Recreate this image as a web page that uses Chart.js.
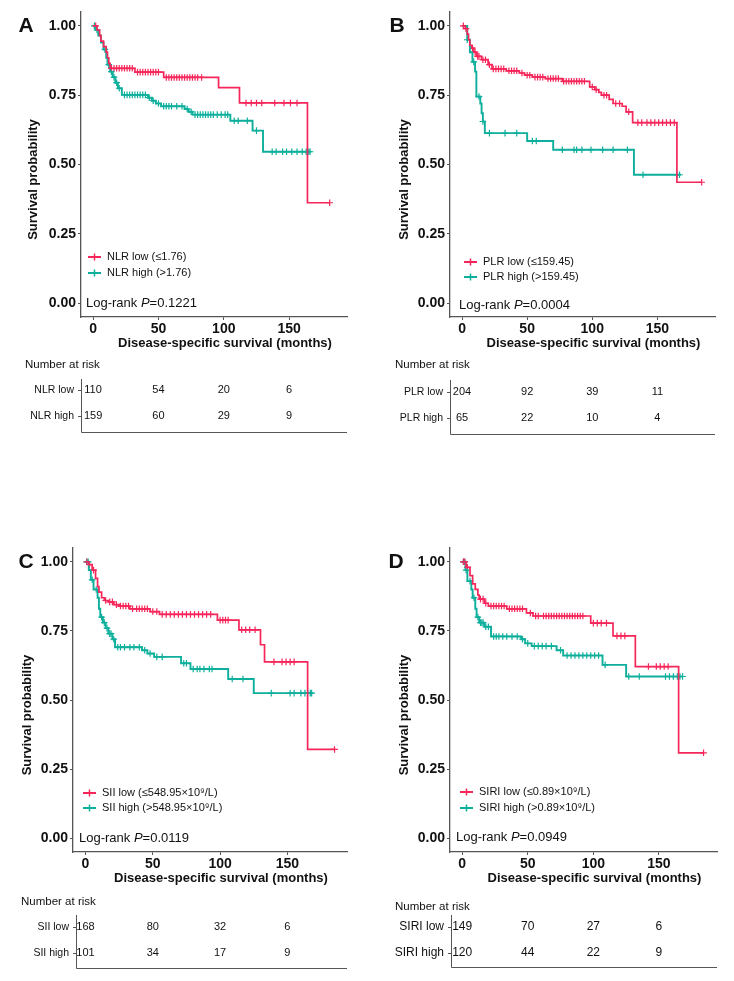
<!DOCTYPE html>
<html>
<head>
<meta charset="utf-8">
<script src="https://cdn.jsdelivr.net/npm/chart.js@4.4.1/dist/chart.umd.min.js"></script>
<style>
 body { margin: 0; background: #fff; }
 canvas { position: absolute; }
</style>
</head>
<body>
<canvas id="kmA" width="367" height="440" style="left:0;top:0"></canvas>
<canvas id="kmB" width="367" height="440" style="left:367px;top:0"></canvas>
<canvas id="kmC" width="367" height="541" style="left:0;top:440px"></canvas>
<canvas id="kmD" width="367" height="541" style="left:367px;top:440px"></canvas>
<script>
// axis ticks
const xTicks = [0, 50, 100, 150];
const yTicks = [0, 0.25, 0.5, 0.75, 1];
const riskTimes = [0, 50, 100, 150];

// A: NLR
const nlrLowT = [0, 3, 5, 6, 8, 10, 11, 12, 13, 32, 54, 96, 112, 164, 181];
const nlrLowS = [1, 0.985, 0.965, 0.945, 0.925, 0.905, 0.885, 0.865, 0.847, 0.833, 0.814, 0.777, 0.722, 0.362, 0.362];
const nlrLowCens = [2, 14, 16, 18, 20, 22, 24, 26, 28, 30, 34, 36, 38, 40, 42, 44, 46, 48, 50, 56, 58, 60, 62, 64, 66, 68, 70, 72, 74, 76, 78, 80, 83, 117, 121, 125, 129, 139, 146, 151, 156, 181];
const nlrHighT = [0, 2, 4, 6, 8, 10, 11, 13, 15, 17, 19, 22, 42, 45, 48, 52, 70, 73, 76, 105, 122, 130, 166];
const nlrHighS = [1, 0.985, 0.965, 0.94, 0.915, 0.885, 0.86, 0.835, 0.815, 0.795, 0.775, 0.751, 0.741, 0.73, 0.72, 0.71, 0.70, 0.69, 0.68, 0.658, 0.622, 0.546, 0.546];
const nlrHighCens = [1, 3, 9, 12, 14, 16, 18, 20, 24, 26, 28, 30, 32, 34, 36, 38, 40, 43, 46, 50, 54, 56, 58, 60, 64, 68, 72, 75, 78, 80, 82, 84, 86, 88, 90, 92, 95, 98, 101, 103, 108, 111, 118, 125, 137, 140, 145, 148, 152, 156, 160, 163, 165, 166];
const nlrLowRisk = [110, 54, 20, 6];
const nlrHighRisk = [159, 60, 29, 9];

// B: PLR
const plrLowT = [0, 2.5, 4, 5, 6, 7.5, 9, 11, 15, 20, 23, 34, 44, 48, 54, 64, 77, 98, 102, 105, 107, 113, 116, 123, 126, 131, 165, 184];
const plrLowS = [1, 0.99, 0.97, 0.95, 0.93, 0.92, 0.905, 0.89, 0.878, 0.86, 0.845, 0.838, 0.83, 0.822, 0.815, 0.81, 0.80, 0.78, 0.77, 0.76, 0.75, 0.735, 0.72, 0.71, 0.69, 0.651, 0.436, 0.436];
const plrLowCens = [1, 3, 8, 10, 12, 13, 16, 18, 21, 24, 26, 28, 30, 32, 36, 38, 40, 42, 46, 50, 52, 56, 58, 60, 62, 66, 68, 70, 72, 74, 78, 80, 82, 84, 86, 88, 90, 92, 94, 100, 103, 109, 111, 118, 121, 128, 135, 138, 142, 145, 148, 151, 154, 157, 160, 163, 184];
const plrHighT = [0, 4, 6, 8, 10, 11, 14, 15, 16, 17.5, 50, 70, 132, 168];
const plrHighS = [1, 0.95, 0.905, 0.87, 0.835, 0.745, 0.72, 0.685, 0.655, 0.613, 0.585, 0.553, 0.463, 0.463];
const plrHighCens = [4, 9, 13, 16, 21, 33, 42, 54, 57, 77, 86, 88, 92, 99, 108, 116, 127, 139, 165, 167];
const plrLowRisk = [204, 92, 39, 11];
const plrHighRisk = [65, 22, 10, 4];

// C: SII
const siiLowT = [0, 2.5, 5, 7.5, 9, 10, 12, 14, 17, 21, 25, 33, 48, 55, 98, 114, 130, 133, 165, 185];
const siiLowS = [1, 0.99, 0.97, 0.94, 0.91, 0.89, 0.87, 0.86, 0.855, 0.845, 0.84, 0.83, 0.82, 0.81, 0.789, 0.754, 0.70, 0.638, 0.321, 0.321];
const siiLowCens = [1, 3, 6, 15, 18, 20, 23, 26, 28, 30, 32, 35, 38, 40, 42, 44, 46, 50, 53, 57, 60, 63, 66, 69, 72, 75, 78, 81, 84, 87, 90, 93, 100, 102, 104, 106, 116, 119, 122, 126, 140, 146, 149, 152, 155, 185];
const siiHighT = [0, 2.5, 4, 6, 9, 10, 11, 13, 15, 17, 20, 22, 42, 46, 51, 71, 78, 106, 125, 168];
const siiHighS = [1, 0.97, 0.935, 0.90, 0.87, 0.83, 0.80, 0.78, 0.76, 0.74, 0.72, 0.691, 0.68, 0.668, 0.656, 0.633, 0.612, 0.576, 0.525, 0.525];
const siiHighCens = [1, 2, 5, 8, 12, 14, 16, 18, 19, 21, 24, 26, 29, 33, 36, 40, 44, 48, 53, 57, 73, 75, 80, 83, 85, 88, 92, 94, 109, 117, 138, 152, 155, 160, 163, 165, 167, 168];
const siiLowRisk = [168, 80, 32, 6];
const siiHighRisk = [101, 34, 17, 9];

// D: SIRI
const siriLowT = [0, 3, 6, 8, 10, 12, 13, 17, 20, 34, 49, 54, 98, 115, 132, 165, 184];
const siriLowS = [1, 0.98, 0.95, 0.92, 0.90, 0.88, 0.865, 0.85, 0.84, 0.83, 0.815, 0.804, 0.778, 0.732, 0.621, 0.309, 0.309];
const siriLowCens = [1, 2, 4, 14, 16, 18, 22, 24, 26, 28, 30, 32, 36, 38, 40, 42, 44, 46, 52, 56, 58, 62, 64, 66, 68, 70, 72, 74, 76, 78, 80, 82, 84, 86, 88, 90, 92, 100, 103, 106, 110, 118, 121, 124, 142, 148, 151, 154, 157, 184];
const siriHighT = [0, 2.5, 4, 7, 8, 10, 11, 13, 17, 22, 45, 48, 53, 72, 77, 107, 125, 168];
const siriHighS = [1, 0.97, 0.93, 0.90, 0.87, 0.83, 0.80, 0.78, 0.765, 0.73, 0.72, 0.705, 0.695, 0.68, 0.661, 0.627, 0.585, 0.585];
const siriHighCens = [1, 2, 3, 6, 9, 12, 14, 15, 16, 18, 20, 24, 26, 28, 31, 34, 38, 42, 46, 50, 55, 58, 61, 64, 68, 75, 80, 83, 86, 89, 92, 95, 98, 101, 104, 109, 127, 135, 155, 158, 161, 164, 166, 168];
const siriLowRisk = [149, 70, 27, 6];
const siriHighRisk = [120, 44, 22, 9];

const RED = '#F5265A';
const TEAL = '#0DAF9C';
const AXIS = '#555';
const FONT = "'Liberation Sans', Arial, sans-serif";
const X_AXIS_H = 22;

const panels = [
 { id: 'kmA', letter: 'A', lowT: nlrLowT, lowS: nlrLowS, lowC: nlrLowCens, highT: nlrHighT, highS: nlrHighS, highC: nlrHighCens,
   rows: ['NLR low', 'NLR high'], legend: ['NLR low (≤1.76)', 'NLR high (>1.76)'], pval: '0.1221', risk: [nlrLowRisk, nlrHighRisk],
   w: 367, h: 440, area: { l: 81, r: 347, t: 12, b: 317 }, letterXY: [26, 26], yTitleX: 33,
   legendX: 88, legendY: [257, 273], pX: 86, pY: 303, xTitleY: 343,
   tblTitle: [25, 365], tblRows: [390, 416], tblAxisX: 81, tblTop: 379, tblBottom: 432, labelFont: 10.5, numFont: 11 },
 { id: 'kmB', letter: 'B', lowT: plrLowT, lowS: plrLowS, lowC: plrLowCens, highT: plrHighT, highS: plrHighS, highC: plrHighCens,
   rows: ['PLR low', 'PLR high'], legend: ['PLR low (≤159.45)', 'PLR high (>159.45)'], pval: '0.0004', risk: [plrLowRisk, plrHighRisk],
   w: 367, h: 440, area: { l: 83, r: 348, t: 12, b: 317 }, letterXY: [30, 26], yTitleX: 37,
   legendX: 97, legendY: [262, 277], pX: 92, pY: 305, xTitleY: 343,
   tblTitle: [28, 365], tblRows: [392, 418], tblAxisX: 83, tblTop: 380, tblBottom: 434, labelFont: 10.5, numFont: 11 },
 { id: 'kmC', letter: 'C', lowT: siiLowT, lowS: siiLowS, lowC: siiLowCens, highT: siiHighT, highS: siiHighS, highC: siiHighCens,
   rows: ['SII low', 'SII high'], legend: ['SII low (≤548.95×10⁹/L)', 'SII high (>548.95×10⁹/L)'], pval: '0.0119', risk: [siiLowRisk, siiHighRisk],
   w: 367, h: 541, area: { l: 73, r: 347, t: 108, b: 412 }, letterXY: [26, 122], yTitleX: 27,
   legendX: 83, legendY: [353, 368], pX: 79, pY: 398, xTitleY: 438,
   tblTitle: [21, 462], tblRows: [487, 513], tblAxisX: 76, tblTop: 475, tblBottom: 528, labelFont: 10.5, numFont: 11 },
 { id: 'kmD', letter: 'D', lowT: siriLowT, lowS: siriLowS, lowC: siriLowCens, highT: siriHighT, highS: siriHighS, highC: siriHighCens,
   rows: ['SIRI low', 'SIRI high'], legend: ['SIRI low (≤0.89×10⁹/L)', 'SIRI high (>0.89×10⁹/L)'], pval: '0.0949', risk: [siriLowRisk, siriHighRisk],
   w: 367, h: 541, area: { l: 83, r: 350, t: 108, b: 412 }, letterXY: [29, 122], yTitleX: 37,
   legendX: 93, legendY: [352, 368], pX: 89, pY: 397, xTitleY: 438,
   tblTitle: [28, 467], tblRows: [487, 513], tblAxisX: 84, tblTop: 475, tblBottom: 527, labelFont: 12, numFont: 12 }
];

function stepData(T, S) {
 return T.map((t, i) => ({ x: t, y: S[i] }));
}

// survival value of the step curve at time t (for placing censor marks)
function survAt(T, S, t) {
 let s = S[0];
 for (let i = 0; i < T.length; i++) {
  if (T[i] <= t) s = S[i];
 }
 return s;
}

function censorData(T, S, C) {
 return C.map(t => ({ x: t, y: survAt(T, S, t) }));
}

function drawCross(ctx, x, y, r, color) {
 ctx.strokeStyle = color;
 ctx.lineWidth = 1.5;
 ctx.beginPath();
 ctx.moveTo(x - r, y); ctx.lineTo(x + r, y);
 ctx.moveTo(x, y - r); ctx.lineTo(x, y + r);
 ctx.stroke();
}

function decorPlugin(p) {
 return {
  id: 'decor',
  afterDraw(chart) {
   const ctx = chart.ctx;
   const ca = chart.chartArea;
   const xs = chart.scales.x;
   ctx.save();
   ctx.fillStyle = '#111';
   ctx.textBaseline = 'middle';

   // panel letter
   ctx.font = `bold 21px ${FONT}`;
   ctx.textAlign = 'center';
   ctx.fillText(p.letter, p.letterXY[0], p.letterXY[1]);

   // y title
   ctx.save();
   ctx.translate(p.yTitleX, (ca.top + ca.bottom) / 2 + 15);
   ctx.rotate(-Math.PI / 2);
   ctx.font = `bold 13px ${FONT}`;
   ctx.fillText('Survival probability', 0, 0);
   ctx.restore();

   // x title
   ctx.font = `bold 13px ${FONT}`;
   ctx.fillText('Disease-specific survival (months)', (ca.left + ca.right) / 2 + 11, p.xTitleY);

   // legend
   ctx.textAlign = 'left';
   ctx.font = `11px ${FONT}`;
   [RED, TEAL].forEach((col, i) => {
    const y = p.legendY[i];
    ctx.strokeStyle = col;
    ctx.lineWidth = 2;
    ctx.beginPath();
    ctx.moveTo(p.legendX, y); ctx.lineTo(p.legendX + 13, y);
    ctx.stroke();
    drawCross(ctx, p.legendX + 6.5, y, 3.5, col);
    ctx.fillStyle = '#111';
    ctx.fillText(p.legend[i], p.legendX + 19, y);
   });

   // log-rank p
   ctx.font = `13px ${FONT}`;
   let x = p.pX;
   ctx.fillText('Log-rank ', x, p.pY);
   x += ctx.measureText('Log-rank ').width;
   ctx.font = `italic 13px ${FONT}`;
   ctx.fillText('P', x, p.pY);
   x += ctx.measureText('P').width;
   ctx.font = `13px ${FONT}`;
   ctx.fillText('=' + p.pval, x, p.pY);

   // number at risk table
   ctx.font = `11.5px ${FONT}`;
   ctx.fillText('Number at risk', p.tblTitle[0], p.tblTitle[1]);
   ctx.strokeStyle = AXIS;
   ctx.lineWidth = 1;
   ctx.beginPath();
   ctx.moveTo(p.tblAxisX + 0.5, p.tblTop);
   ctx.lineTo(p.tblAxisX + 0.5, p.tblBottom + 0.5);
   ctx.lineTo(ca.right, p.tblBottom + 0.5);
   p.tblRows.forEach(y => {
    ctx.moveTo(p.tblAxisX - 3, y + 0.5);
    ctx.lineTo(p.tblAxisX, y + 0.5);
   });
   ctx.stroke();
   p.rows.forEach((lab, i) => {
    const y = p.tblRows[i];
    ctx.textAlign = 'right';
    ctx.font = `${p.labelFont}px ${FONT}`;
    ctx.fillText(lab, p.tblAxisX - 7, y);
    ctx.textAlign = 'center';
    ctx.font = `${p.numFont}px ${FONT}`;
    p.risk[i].forEach((n, j) => {
     ctx.fillText(String(n), xs.getPixelForValue(riskTimes[j]), y);
    });
   });
   ctx.restore();
  }
 };
}

function makePanel(p) {
 const canvas = document.getElementById(p.id);
 const ctx = canvas.getContext('2d');
 const tickFont = { family: FONT, size: 14, weight: 'bold' };
 return new Chart(ctx, {
  type: 'line',
  data: {
   datasets: [
    { label: p.rows[0], data: stepData(p.lowT, p.lowS), borderColor: RED, backgroundColor: RED,
      stepped: 'before', pointRadius: 0, borderWidth: 1.7, fill: false },
    { label: p.rows[1], data: stepData(p.highT, p.highS), borderColor: TEAL, backgroundColor: TEAL,
      stepped: 'before', pointRadius: 0, borderWidth: 1.9, fill: false },
    { type: 'scatter', label: p.rows[0] + ' censored', data: censorData(p.lowT, p.lowS, p.lowC),
      pointStyle: 'cross', pointRadius: 3.3, borderColor: RED, borderWidth: 1.2 },
    { type: 'scatter', label: p.rows[1] + ' censored', data: censorData(p.highT, p.highS, p.highC),
      pointStyle: 'cross', pointRadius: 3.3, borderColor: TEAL, borderWidth: 1.2 }
   ]
  },
  options: {
   responsive: false,
   animation: false,
   devicePixelRatio: 1,
   layout: { padding: { left: 0, top: p.area.t, right: p.w - p.area.r, bottom: p.h - p.area.b - X_AXIS_H } },
   plugins: { legend: { display: false }, tooltip: { enabled: false } },
   scales: {
    x: {
     type: 'linear', min: -9.25, max: 194.25,
     afterBuildTicks: s => { s.ticks = xTicks.map(v => ({ value: v })); },
     afterFit: s => { s.height = X_AXIS_H; },
     grid: { display: true, drawOnChartArea: false, drawTicks: true, tickLength: 3, color: AXIS },
     border: { display: true, color: AXIS, width: 1.3 },
     ticks: { font: tickFont, color: '#111', padding: 1, maxRotation: 0, callback: v => String(v) }
    },
    y: {
     type: 'linear', min: -0.05, max: 1.05,
     afterBuildTicks: s => { s.ticks = yTicks.map(v => ({ value: v })); },
     afterFit: s => { s.width = p.area.l; },
     grid: { display: true, drawOnChartArea: false, drawTicks: true, tickLength: 3, color: AXIS },
     border: { display: true, color: AXIS, width: 1.3 },
     ticks: { font: tickFont, color: '#111', padding: 2, callback: v => Number(v).toFixed(2) }
    }
   }
  },
  plugins: [decorPlugin(p)]
 });
}

panels.forEach(makePanel);
</script>
</body>
</html>
